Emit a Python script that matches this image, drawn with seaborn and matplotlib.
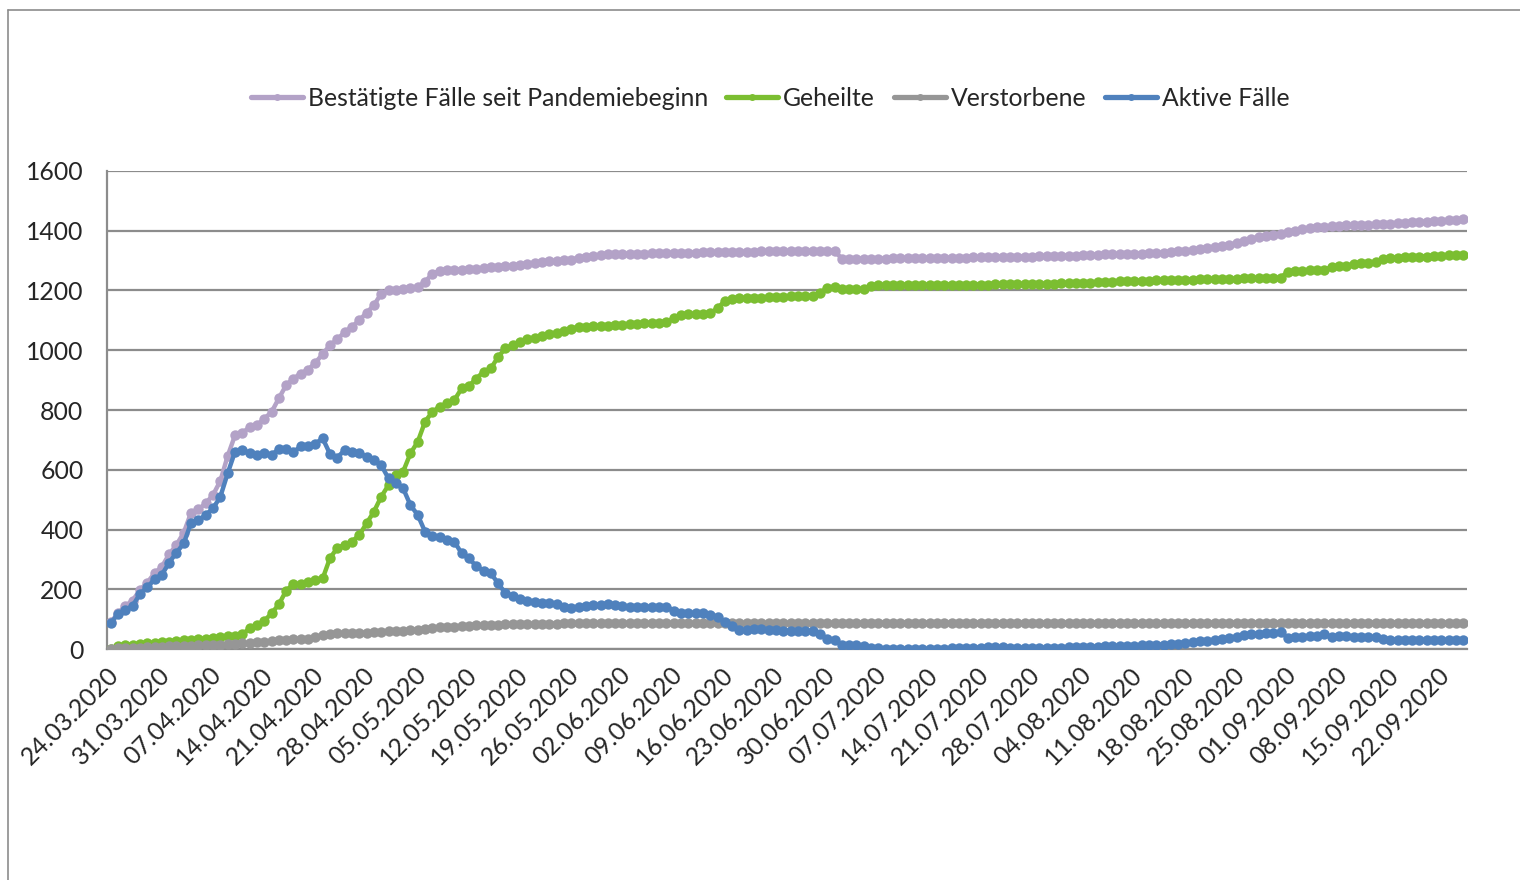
import matplotlib
matplotlib.use("Agg")
import matplotlib.pyplot as plt
from matplotlib.lines import Line2D
from matplotlib.transforms import ScaledTranslation
import seaborn as sns
import pandas as pd

# ---------------- data ----------------
series_names = ["Bestätigte Fälle seit Pandemiebeginn", "Geheilte", "Verstorbene", "Aktive Fälle"]
series_colors = ["#B3A2C7", "#7BBE31", "#969696", "#4F81BD"]

tick_labels = ["24.03.2020", "31.03.2020", "07.04.2020", "14.04.2020", "21.04.2020",
               "28.04.2020", "05.05.2020", "12.05.2020", "19.05.2020", "26.05.2020",
               "02.06.2020", "09.06.2020", "16.06.2020", "23.06.2020", "30.06.2020",
               "07.07.2020", "14.07.2020", "21.07.2020", "28.07.2020", "04.08.2020",
               "11.08.2020", "18.08.2020", "25.08.2020", "01.09.2020", "08.09.2020",
               "15.09.2020", "22.09.2020"]

bestaetigt = [
    90, 120, 145, 163, 198, 223, 254, 276, 318, 349, 390, 457, 468, 488, 516, 563, 646, 715, 724, 742,
    749, 771, 793, 839, 883, 905, 922, 935, 958, 987, 1017, 1036, 1061,
    1078, 1100, 1125, 1150, 1189, 1200, 1200, 1206, 1208, 1212, 1228, 1256, 1265, 1267, 1269, 1269,
    1271, 1273, 1275, 1277, 1278, 1281, 1281, 1284, 1287, 1292, 1295, 1297, 1298, 1301, 1303, 1308,
    1312, 1315, 1318, 1320, 1321, 1322, 1322, 1323, 1323, 1324, 1324, 1325, 1325, 1326, 1326, 1326,
    1327, 1327, 1327, 1328, 1328, 1329, 1329, 1329, 1330, 1330, 1330, 1331, 1331, 1331, 1331, 1332,
    1332, 1332, 1332,
    1306, 1306, 1306, 1306, 1306, 1306, 1306, 1307, 1307, 1307, 1307, 1307, 1307, 1308, 1308, 1308,
    1308, 1309, 1310, 1310, 1311, 1311, 1312, 1312, 1312,
    1313, 1313, 1314, 1314, 1315, 1315, 1316, 1316, 1317, 1318, 1319, 1320, 1320, 1321, 1322, 1323,
    1323, 1324, 1325, 1326, 1328, 1330, 1333, 1336, 1339, 1342, 1345, 1348, 1352, 1358, 1366,
    1373, 1377, 1381, 1385, 1389, 1394, 1399, 1404, 1408, 1411, 1413, 1415, 1416, 1417, 1418, 1419,
    1420, 1421, 1422, 1423, 1425, 1426, 1428, 1429, 1430, 1431, 1432, 1434, 1436, 1437,
]

geheilt = [
    2, 10, 14, 16, 18, 20, 22, 24, 26, 28, 30, 32, 34, 36, 39, 41, 43, 45, 50, 70,
    82, 95, 120, 150, 196, 218, 218, 226, 232, 237, 305, 339, 349,
    360, 382, 421, 460, 510, 549, 582, 594, 655, 694, 761, 794, 811, 822, 833, 872,
    880, 905, 928, 939, 978, 1006, 1017, 1028, 1036, 1042, 1047, 1053, 1058, 1065, 1072, 1077,
    1078, 1080, 1081, 1082, 1083, 1084, 1086, 1088, 1090, 1091, 1092, 1094, 1106, 1118, 1120, 1120,
    1121, 1124, 1140, 1165, 1172, 1173, 1174, 1175, 1176, 1177, 1178, 1179, 1180, 1180, 1181, 1182,
    1192, 1208, 1212, 1203, 1203, 1203, 1205, 1213, 1217, 1218, 1218, 1218, 1218, 1218, 1218, 1218,
    1218, 1219, 1219, 1219, 1219, 1219, 1219, 1219, 1220, 1220, 1220, 1220,
    1220, 1220, 1221, 1222, 1222, 1223, 1224, 1225, 1225, 1226, 1227, 1228, 1229, 1230, 1231, 1231,
    1232, 1232, 1233, 1233, 1234, 1235, 1236, 1236, 1237, 1237, 1238, 1238, 1238, 1239, 1240,
    1240, 1240, 1241, 1241, 1242, 1262, 1265, 1266, 1267, 1267, 1268, 1278, 1280, 1281, 1288, 1291,
    1292, 1294, 1305, 1308, 1309, 1310, 1311, 1312, 1313, 1315, 1316, 1317, 1318, 1319,
]

verstorben = (
    [2, 3, 4, 5, 6, 7, 8, 9, 10, 11, 12, 12, 13, 14, 15, 16, 17, 18, 20, 22,
     24, 26, 28, 30, 32, 34, 35, 36, 40, 48, 52, 53, 54,
     55, 55, 56, 57, 59, 60, 61, 62, 64, 66, 69, 72, 74, 75, 76, 78,
     79, 80, 81, 81, 82, 83, 83, 84, 84, 85, 85, 86, 86, 87, 87, 87]
    + [88] * 35
    + [89] * 86
)

aktiv = [
    87, 118, 131, 145, 185, 207, 234, 249, 290, 323, 354, 423, 432, 449, 471, 510, 588, 660, 666, 655,
    649, 657, 649, 670, 668, 659, 679, 680, 688, 705, 653, 641, 666,
    660, 655, 644, 633, 616, 571, 555, 538, 482, 449, 393, 379, 374, 365, 360, 321,
    304, 278, 263, 254, 220, 187, 178, 167, 163, 159, 156, 154, 150, 143, 137, 140,
    145, 147, 148, 151, 148, 145, 143, 143, 143, 140, 140, 143, 129, 120, 120, 120,
    120, 115, 109, 92, 78, 65, 65, 67, 67, 65, 65, 62, 62, 61, 60, 60,
    52, 35, 31, 14, 14, 14, 12, 6, 3, 2, 2, 1, 1, 1, 1, 1,
    2, 2, 3, 3, 4, 5, 6, 8, 8, 7, 6, 6,
    4, 4, 5, 5, 6, 6, 7, 7, 8, 9, 9, 10, 10, 11, 12, 12,
    13, 14, 15, 16, 17, 19, 21, 24, 27, 29, 31, 33, 37, 42, 47, 50,
    52, 54, 56, 58,
    38, 40, 42, 44, 46, 50, 40, 44, 46, 42, 42, 41, 40, 34, 32, 31,
    30, 30, 30, 31, 31, 31, 30, 30, 30,
]

# ---------------- build long table ----------------
n_days = len(bestaetigt)
tage = list(range(n_days))
frames = []
for name, vals in zip(series_names, [bestaetigt, geheilt, verstorben, aktiv]):
    frames.append(pd.DataFrame({"Tag": tage, "Wert": vals, "Reihe": name}))
df = pd.concat(frames, ignore_index=True)

# ---------------- style ----------------
sns.set_style("white")
plt.rcParams["font.family"] = ["Lato", "DejaVu Sans"]
FS = 17.8
grid_col = "#8C8C8C"

fig = plt.figure(figsize=(15.2, 8.8), dpi=100)
ax = fig.add_axes([107 / 1520, 1 - 649.3 / 880, 1360 / 1520, 478.6 / 880])

sns.lineplot(data=df, x="Tag", y="Wert", hue="Reihe", hue_order=series_names,
             palette=dict(zip(series_names, series_colors)), marker="o",
             markersize=7.5, markeredgewidth=0, linewidth=3.2, ax=ax,
             legend=False, zorder=3)

ax.set_xlim(-0.5, n_days - 0.5)
ax.set_ylim(0, 1600)
ax.set_yticks(range(0, 1601, 200))
ax.set_xticks([7 * k - 0.5 for k in range(len(tick_labels))])
ax.set_xticklabels(tick_labels, rotation=45, ha="right", va="top",
                   rotation_mode="anchor", fontsize=FS)
for lab in ax.get_xticklabels():
    lab.set_transform(lab.get_transform() + ScaledTranslation(0.12, 0, fig.dpi_scale_trans))
ax.tick_params(axis="y", labelsize=FS, length=7, width=1.3, color=grid_col, pad=10, direction="out")
ax.tick_params(axis="x", length=7, width=1.3, color=grid_col, pad=3, direction="out")
ax.set_xlabel("")
ax.set_ylabel("")

ax.yaxis.grid(True, color=grid_col, linewidth=1.6)
ax.xaxis.grid(False)
ax.set_axisbelow(True)
for s in ["top", "right"]:
    ax.spines[s].set_visible(False)
for s in ["left", "bottom"]:
    ax.spines[s].set_color(grid_col)
    ax.spines[s].set_linewidth(1.6)
ax.spines["bottom"].set_zorder(2)

# legend
handles = [Line2D([0], [0], color=c, linewidth=3.8, marker="o", markersize=5,
                  markeredgewidth=0) for c in series_colors]
ax.legend(handles, series_names, loc="center", bbox_to_anchor=(0.5066, 0.8886),
          bbox_transform=fig.transFigure, ncol=4, frameon=False, fontsize=FS,
          handlelength=2.1, handletextpad=0.2, columnspacing=0.75, numpoints=1)

# outer chart-area border (top and left visible)
fig.add_artist(Line2D([8 / 1520, 1.01], [1 - 10 / 880, 1 - 10 / 880],
                      transform=fig.transFigure, color="#8C8C8C", linewidth=1.2))
fig.add_artist(Line2D([8 / 1520, 8 / 1520], [1 - 10 / 880, -0.01],
                      transform=fig.transFigure, color="#8C8C8C", linewidth=1.2))

fig.savefig("out.png", dpi=100, facecolor="white")
